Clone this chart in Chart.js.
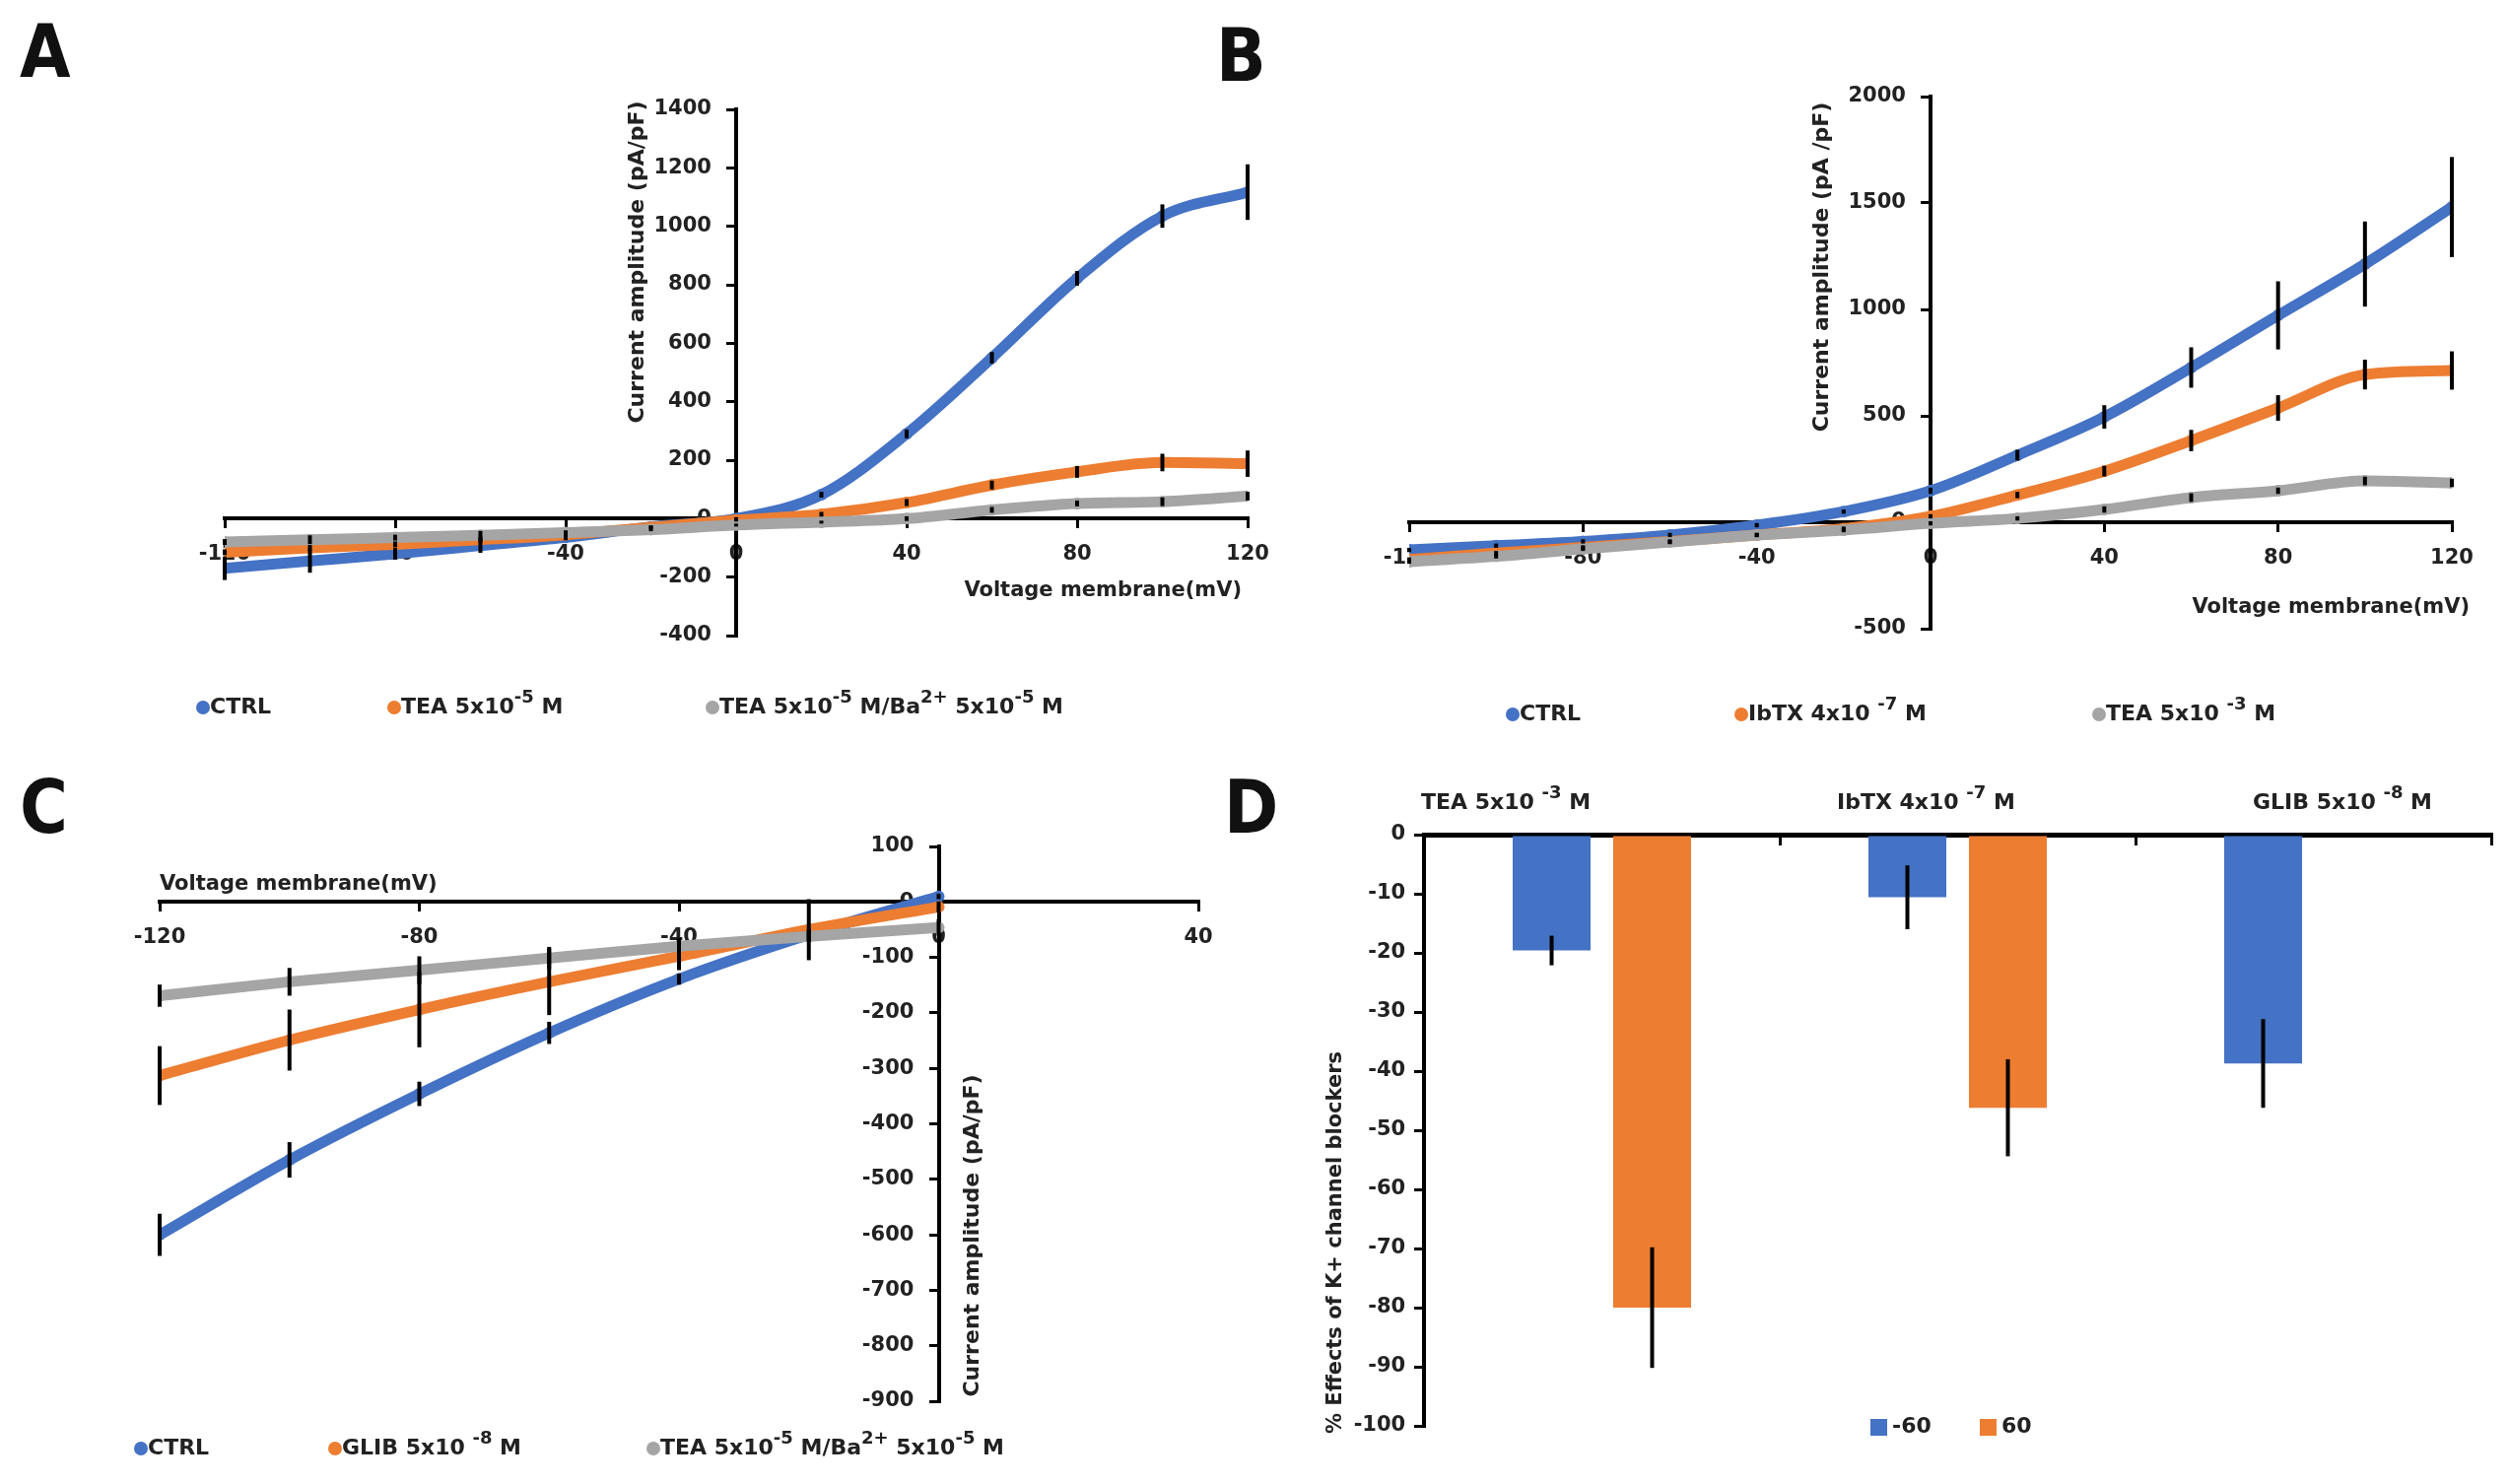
<!DOCTYPE html>
<html lang="en">
<head>
  <meta charset="UTF-8" />
  <title>K+ channel blockers - I/V curves</title>
  <script src="https://cdn.jsdelivr.net/npm/chart.js"></script>
  <style>
    body { margin: 0; background: #fff; width: 2546px; height: 1506px; position: relative; overflow: hidden; }
    canvas { position: absolute; left: 0; top: 0; }
    .tag { position: absolute; font: bold 74px/74px 'Liberation Sans Narrow', 'DejaVu Sans Condensed', sans-serif; color: #111; }
  </style>
</head>
<body>
  <div class="tag" style="left:20px;top:15px">A</div>
  <div class="tag" style="left:1234px;top:19px">B</div>
  <div class="tag" style="left:20px;top:782px">C</div>
  <div class="tag" style="left:1242px;top:782px">D</div>

  <canvas id="chartA" width="2546" height="1506"></canvas>
  <canvas id="chartB" width="2546" height="1506"></canvas>
  <canvas id="chartC" width="2546" height="1506"></canvas>
  <canvas id="chartD" width="2546" height="1506"></canvas>

  <script>
    // membrane voltages (mV)
    const voltsAB = [-120, -100, -80, -60, -40, -20, 0, 20, 40, 60, 80, 100, 120];
    const voltsC = [-120, -100, -80, -60, -40, -20, 0];

    // panel A (pA/pF)
    const ctrlA = [-170, -145, -120, -92, -64, -28, 0, 82, 290, 550, 822, 1035, 1117];
    const teaA = [-115, -100, -88, -72, -55, -30, -5, 15, 55, 115, 160, 192, 188];
    const teaBaA = [-80, -72, -65, -57, -48, -38, -22, -12, 0, 30, 52, 58, 77];
    const errCtrlA = [40, 40, 20, 25, 10, 5, 5, 10, 15, 20, 25, 40, 95];
    const errTeaA = [10, 10, 10, 10, 8, 5, 5, 8, 12, 15, 20, 30, 45];
    const errTeaBaA = [10, 15, 10, 15, 8, 5, 5, 5, 8, 10, 10, 15, 15];
    const namesA = ['CTRL', 'TEA 5x10^{-5} M', 'TEA 5x10^{-5} M/Ba^{2+} 5x10^{-5} M'];

    // panel B
    const ctrlB = [-130, -110, -90, -60, -14, 50, 148, 315, 495, 727, 972, 1213, 1481];
    const ibtxB = [-175, -145, -118, -90, -60, -30, 28, 128, 240, 384, 537, 694, 713];
    const teaB = [-185, -160, -125, -93, -60, -37, -5, 18, 60, 116, 148, 194, 185];
    const errCtrlB = [10, 10, 10, 10, 10, 10, 15, 25, 55, 95, 160, 200, 235];
    const errIbtxB = [10, 10, 10, 10, 10, 10, 10, 15, 25, 50, 60, 70, 90];
    const errTeaB = [10, 10, 10, 10, 10, 10, 10, 10, 15, 20, 15, 20, 20];
    const namesB = ['CTRL', 'IbTX 4x10 ^{-7} M', 'TEA 5x10 ^{-3} M'];

    // panel C
    const ctrlC = [-600, -465, -346, -236, -139, -59, 10];
    const glibC = [-313, -249, -194, -144, -98, -50, -9];
    const teaBaC = [-169, -144, -123, -101, -80, -62, -46];
    const errCtrlC = [38, 32, 22, 20, 10, 10, 5];
    const errGlibC = [53, 55, 68, 60, 25, 55, 10];
    const errTeaBaC = [20, 25, 25, 20, 15, 10, 15];
    const namesC = ['CTRL', 'GLIB 5x10 ^{-8} M', 'TEA 5x10^{-5} M/Ba^{2+} 5x10^{-5} M'];

    // panel D (% effect)
    const blockersD = ['TEA 5x10 ^{-3} M', 'IbTX 4x10 ^{-7} M', 'GLIB 5x10 ^{-8} M'];
    const effectNeg60 = [-19.6, -10.6, -38.7];
    const effectPos60 = [-80, -46.2, null];
    const errNeg60 = [2.5, 5.4, 7.5];
    const errPos60 = [10.2, 8.2, null];
    const namesD = ['-60', '60'];

    const COLORS = ['#4472C4', '#ED7D31', '#A5A5A5'];
    const FONT = "'DejaVu Sans', sans-serif";
    const INK = '#222';

    // text with ^{...} superscripts
    function richText(ctx, str, x, y, size, align) {
      const parts = str.split(/\^\{([^}]*)\}/);
      const supSize = Math.round(size * 0.8);
      let w = 0;
      parts.forEach((p, i) => {
        ctx.font = `bold ${i % 2 ? supSize : size}px ${FONT}`;
        w += ctx.measureText(p).width;
      });
      let cx = align === 'center' ? x - w / 2 : align === 'right' ? x - w : x;
      ctx.textAlign = 'left';
      ctx.textBaseline = 'middle';
      parts.forEach((p, i) => {
        const sup = i % 2 === 1;
        ctx.font = `bold ${sup ? supSize : size}px ${FONT}`;
        ctx.fillText(p, cx, sup ? y - size * 0.45 : y);
        cx += ctx.measureText(p).width;
      });
    }

    const errorBars = {
      id: 'errorBars',
      afterDatasetsDraw(chart) {
        const ctx = chart.ctx;
        const yScale = chart.scales.y;
        ctx.save();
        ctx.strokeStyle = '#000';
        ctx.lineWidth = 4;
        chart.data.datasets.forEach((ds, di) => {
          if (!ds.errors) return;
          chart.getDatasetMeta(di).data.forEach((el, i) => {
            const d = ds.data[i];
            const v = d !== null && typeof d === 'object' ? d.y : d;
            const e = ds.errors[i];
            if (v === null || e === null) return;
            ctx.beginPath();
            ctx.moveTo(el.x, yScale.getPixelForValue(v - e));
            ctx.lineTo(el.x, yScale.getPixelForValue(v + e));
            ctx.stroke();
          });
        });
        ctx.restore();
      }
    };

    const figText = {
      id: 'figText',
      afterDraw(chart, args, opts) {
        const ctx = chart.ctx;
        ctx.save();
        (opts.titles || []).forEach(t => {
          ctx.save();
          ctx.translate(t.x, t.y);
          if (t.rotate) ctx.rotate(-Math.PI / 2);
          ctx.fillStyle = INK;
          richText(ctx, t.text, 0, 0, t.size, t.align || 'center');
          ctx.restore();
        });
        const lg = opts.legend;
        if (lg) {
          chart.data.datasets.forEach((ds, i) => {
            const x = lg.x[i];
            ctx.fillStyle = ds.backgroundColor;
            if (lg.square) {
              ctx.fillRect(x - 8, lg.y - 8, 17, 17);
            } else {
              ctx.beginPath();
              ctx.arc(x, lg.y, 7, 0, Math.PI * 2);
              ctx.fill();
            }
            ctx.fillStyle = INK;
            richText(ctx, ds.label, x + (lg.square ? 14 : 7), lg.y, 22, 'left');
          });
        }
        ctx.restore();
      }
    };

    // y labels sit right on the axis when it is placed by value, so pad them with trailing spaces
    function axis(min, max, step, pos, gap) {
      return {
        type: 'linear', min, max, position: pos,
        border: { color: '#000', width: 4 },
        grid: { drawOnChartArea: false, color: '#000', tickLength: 8, lineWidth: 3 },
        ticks: {
          stepSize: step, color: INK, padding: 16,
          font: { family: FONT, size: 21, weight: 'bold' },
          callback: v => String(v) + (gap || '')
        }
      };
    }

    function ivChart(id, volts, series, errs, names, xr, yr, padding, text) {
      return new Chart(document.getElementById(id), {
        type: 'line',
        data: {
          datasets: series.map((vals, k) => ({
            label: names[k],
            data: volts.map((v, i) => ({ x: v, y: vals[i] })),
            errors: errs[k],
            borderColor: COLORS[k],
            backgroundColor: COLORS[k],
            borderWidth: 11,
            pointRadius: 6,
            pointBorderWidth: 0,
            cubicInterpolationMode: 'monotone',
            order: 2 - k
          }))
        },
        options: {
          responsive: false,
          animation: false,
          layout: { padding },
          plugins: { legend: { display: false }, tooltip: { enabled: false }, figText: text },
          scales: {
            x: axis(xr[0], xr[1], xr[2], { y: 0 }),
            y: axis(yr[0], yr[1], yr[2], { x: 0 }, '\u2007\u2002')
          }
        },
        plugins: [errorBars, figText]
      });
    }

    ivChart('chartA', voltsAB, [ctrlA, teaA, teaBaA], [errCtrlA, errTeaA, errTeaBaA], namesA,
      [-120, 120, 40], [-400, 1400, 200],
      { left: 228, top: 111, right: 1280, bottom: 861 },
      {
        titles: [
          { text: 'Current amplitude (pA/pF)', x: 647, y: 266, size: 22, rotate: true },
          { text: 'Voltage membrane(mV)', x: 1260, y: 600, size: 21, align: 'right' }
        ],
        legend: { y: 718, x: [206, 400, 723] }
      });

    ivChart('chartB', voltsAB, [ctrlB, ibtxB, teaB], [errCtrlB, errIbtxB, errTeaB], namesB,
      [-120, 120, 40], [-500, 2000, 500],
      { left: 1430, top: 98, right: 58, bottom: 868 },
      {
        titles: [
          { text: 'Current amplitude (pA /pF)', x: 1849, y: 271, size: 22, rotate: true },
          { text: 'Voltage membrane(mV)', x: 2506, y: 617, size: 21, align: 'right' }
        ],
        legend: { y: 725, x: [1535, 1767, 2130] }
      });

    ivChart('chartC', voltsC, [ctrlC, glibC, teaBaC], [errCtrlC, errGlibC, errTeaBaC], namesC,
      [-120, 40, 40], [-900, 100, 100],
      { left: 162, top: 859, right: 1330, bottom: 84 },
      {
        titles: [
          { text: 'Current amplitude (pA/pF)', x: 987, y: 1254, size: 22, rotate: true },
          { text: 'Voltage membrane(mV)', x: 162, y: 898, size: 21, align: 'left' }
        ],
        legend: { y: 1470, x: [143, 340, 663] }
      });

    const labelLeftD = [1442, 1864, 2286];
    new Chart(document.getElementById('chartD'), {
      type: 'bar',
      data: {
        labels: blockersD,
        datasets: [
          { label: namesD[0], data: effectNeg60, errors: errNeg60, backgroundColor: COLORS[0] },
          { label: namesD[1], data: effectPos60, errors: errPos60, backgroundColor: COLORS[1] }
        ]
      },
      options: {
        responsive: false,
        animation: false,
        layout: { padding: { left: 1445, top: 847, right: 18, bottom: 59 } },
        datasets: { bar: { barPercentage: 0.775, categoryPercentage: 0.565 } },
        plugins: {
          legend: { display: false },
          tooltip: { enabled: false },
          figText: {
            titles: [
              { text: '% Effects of K+ channel blockers', x: 1356, y: 1261, size: 21, rotate: true }
            ].concat(blockersD.map((b, i) => ({ text: b, x: labelLeftD[i], y: 815, size: 22, align: 'left' }))),
            legend: { y: 1448, x: [1906, 2017], square: true }
          }
        },
        scales: {
          x: {
            position: { y: 0 },
            border: { color: '#000', width: 5 },
            grid: { drawOnChartArea: false, color: '#000', tickLength: 8, lineWidth: 3 },
            ticks: { display: false }
          },
          y: axis(-100, 0, 10, { x: -0.5 }, '\u2007\u2009')
        }
      },
      plugins: [errorBars, figText]
    });
  </script>
</body>
</html>
